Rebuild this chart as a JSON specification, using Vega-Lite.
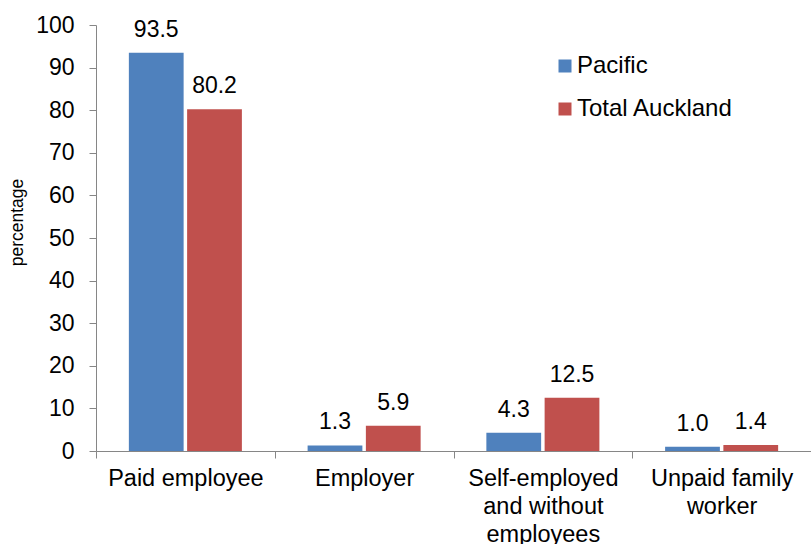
{
  "$schema": "https://vega.github.io/schema/vega-lite/v6.json",
  "width": 715,
  "height": 426,
  "autosize": {"type": "none"},
  "padding": {"left": 96, "top": 25, "right": 0, "bottom": 93},
  "background": "white",
  "config": {
    "view": {"stroke": null},
    "font": "Liberation Sans",
    "axis": {
      "domainColor": "#868686",
      "tickColor": "#868686",
      "labelColor": "#000000",
      "titleColor": "#000000",
      "labelFont": "Liberation Sans",
      "titleFont": "Liberation Sans",
      "grid": false
    }
  },
  "data": {
    "values": [
      {"cat": "Paid employee", "series": "Pacific", "value": 93.5},
      {"cat": "Paid employee", "series": "Total Auckland", "value": 80.2},
      {"cat": "Employer", "series": "Pacific", "value": 1.3},
      {"cat": "Employer", "series": "Total Auckland", "value": 5.9},
      {"cat": "Self-employed\nand without\nemployees", "series": "Pacific", "value": 4.3},
      {"cat": "Self-employed\nand without\nemployees", "series": "Total Auckland", "value": 12.5},
      {"cat": "Unpaid family\nworker", "series": "Pacific", "value": 1.0},
      {"cat": "Unpaid family\nworker", "series": "Total Auckland", "value": 1.4}
    ]
  },
  "encoding": {
    "x": {
      "field": "cat",
      "type": "nominal",
      "sort": null,
      "scale": {"paddingInner": 0, "paddingOuter": 0},
      "axis": {
        "title": null,
        "labelAngle": 0,
        "tickBand": "extent",
        "tickSize": 7,
        "labelPadding": 8,
        "labelFontSize": 23.5,
        "labelLineHeight": 28,
        "labelBaseline": "top",
        "labelExpr": "split(datum.label, '\\n')"
      }
    },
    "xOffset": {
      "field": "series",
      "type": "nominal",
      "scale": {"paddingInner": 0.06, "paddingOuter": 0.564}
    },
    "y": {
      "field": "value",
      "type": "quantitative",
      "scale": {"domain": [0, 100], "nice": false},
      "axis": {
        "title": "percentage",
        "values": [0, 10, 20, 30, 40, 50, 60, 70, 80, 90, 100],
        "tickSize": 7,
        "labelPadding": 15,
        "labelFontSize": 23,
        "titleFontSize": 17.5,
        "titleFontWeight": "normal",
        "titleAngle": -90,
        "titleAlign": "center",
        "titleBaseline": "alphabetic",
        "titleX": -74,
        "titleY": 197
      }
    }
  },
  "layer": [
    {
      "mark": {"type": "bar"},
      "encoding": {
        "color": {
          "field": "series",
          "type": "nominal",
          "scale": {"domain": ["Pacific", "Total Auckland"], "range": ["#4F81BD", "#C0504D"]},
          "legend": {
            "title": null,
            "orient": "none",
            "legendX": 457,
            "legendY": 29,
            "symbolType": "square",
            "symbolSize": 169,
            "symbolStrokeWidth": 0,
            "labelFontSize": 24,
            "labelFont": "Liberation Sans",
            "labelColor": "#000000",
            "labelOffset": 0,
            "rowPadding": 19
          }
        }
      }
    },
    {
      "mark": {"type": "text", "baseline": "alphabetic", "dy": -16, "fontSize": 23, "color": "#000000"},
      "encoding": {
        "text": {"field": "value", "type": "quantitative", "format": ".1f"}
      }
    }
  ]
}
